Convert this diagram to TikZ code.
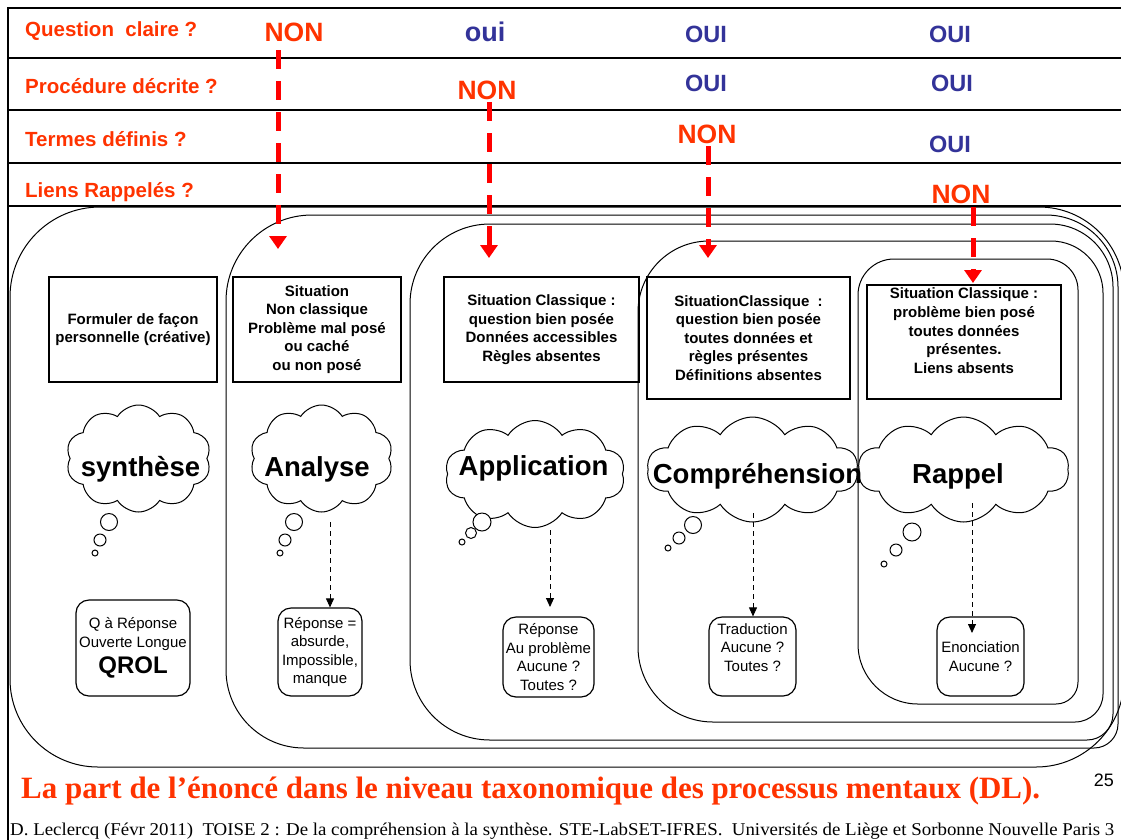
\documentclass[tikz,border=0pt]{standalone}
\usepackage{fontspec}
\usepackage{graphicx}
\setmainfont{Liberation Serif}
\newfontfamily\arial{Liberation Sans}
\newfontfamily\tnr{Liberation Serif}
\usetikzlibrary{shapes.symbols,arrows.meta}

\definecolor{qred}{HTML}{FF3300}
\definecolor{ouiblue}{HTML}{333399}
\definecolor{arrowred}{HTML}{FF0000}

% rounded frame with individual corner radii:
% #1 left, #2 top, #3 right, #4 bottom, #5 tl, #6 tr, #7 br, #8 bl
\newcommand\tierbox[8]{%
  \draw[tier] (#1+#5,#2) -- (#3-#6,#2)
    arc[start angle=90,end angle=0,radius=#6] -- (#3,#4+#7)
    arc[start angle=0,end angle=-90,radius=#7] -- (#1+#8,#4)
    arc[start angle=270,end angle=180,radius=#8] -- (#1,#2-#5)
    arc[start angle=180,end angle=90,radius=#5] -- cycle;}

\begin{document}
\begin{tikzpicture}[x=1pt,y=1pt,
  rowrule/.style={line width=2pt},
  tier/.style={line width=1pt},
  question/.style={anchor=base west,inner sep=0,text=qred,
    font=\arial\bfseries\fontsize{20.5}{24}\selectfont},
  nonlab/.style={anchor=base,inner sep=0,text=qred,
    font=\arial\bfseries\fontsize{26.5}{30}\selectfont},
  ouilab/.style={anchor=base,inner sep=0,text=ouiblue,
    font=\arial\bfseries\fontsize{23.5}{28}\selectfont},
  sitbox/.style={draw,line width=1.2pt,align=center,inner sep=0,
    font=\arial\bfseries\fontsize{15}{18.6}\selectfont},
  ansbox/.style={draw,rounded corners=13pt,line width=1.2pt,align=center,inner sep=0,
    font=\arial\fontsize{15}{18.6}\selectfont},
  thought/.style={cloud,draw,fill=white,line width=1pt,cloud puffs=10,
    cloud puff arc=115,inner sep=0},
  cloudtext/.style={anchor=base,inner sep=0,font=\arial\bfseries\fontsize{27.5}{30}\selectfont},
  bubble/.style={draw,fill=white,line width=1pt},
  askarrow/.style={draw=arrowred,line width=5pt,dash pattern=on 19pt off 12pt,
    -{Triangle[width=17pt,length=13pt]}},
  answ/.style={line width=0.9pt,dash pattern=on 5pt off 4pt,
    -{Triangle[width=8pt,length=9pt]}}]

\useasboundingbox (0,0) rectangle (1121,-839);
\begin{scope}
\clip (0,0) rectangle (1121,-839);
\fill[white] (0,0) rectangle (1121,-839);

% question table
\draw[rowrule] (8,-8) -- (1130,-8);
\draw[rowrule] (8,-58) -- (1130,-58);
\draw[rowrule] (8,-110) -- (1130,-110);
\draw[rowrule] (8,-163) -- (1130,-163);
\draw[rowrule] (8,-206) -- (1130,-206);
\draw[rowrule] (8,-7) -- (8,-845);

% nested levels
\tierbox{10}{-207}{1124}{-767}{90}{85}{88}{88}
\tierbox{226}{-215}{1118}{-748}{86}{72}{24}{78}
\tierbox{410}{-224}{1113}{-740}{80}{63}{26}{80}
\tierbox{638}{-241}{1103}{-722}{71}{52}{28}{75}
\tierbox{858}{-259}{1078}{-704}{36}{31}{22}{60}

% situation boxes
\node[sitbox,minimum width=168pt,minimum height=105pt] (s1) at (133,-329.5)
  {Formuler de façon\\personnelle (créative)};
\node[sitbox,minimum width=168pt,minimum height=105pt] (s2) at (317,-329.5)
  {Situation\\Non classique\\Problème mal posé\\ou caché\\ou non posé};
\node[sitbox,minimum width=195pt,minimum height=105pt] (s3) at (541.5,-329.5)
  {Situation Classique :\\question bien posée\\Données accessibles\\Règles absentes};
\node[sitbox,minimum width=203pt,minimum height=122pt] (s4) at (748.5,-338)
  {SituationClassique\ \ :\\question bien posée\\toutes données et\\règles présentes\\Définitions absentes};
\node[sitbox,minimum width=194pt,minimum height=114pt] (s5) at (964,-342)
  {Situation Classique :\\problème bien posé\\toutes données\\présentes.\\Liens absents\\[4pt]};

% thought clouds
\node[thought,minimum width=145pt,minimum height=107pt] (c1) at (138.5,-458.5) {};
\node[thought,minimum width=143pt,minimum height=107pt] (c2) at (321.5,-458.5) {};
\node[thought,minimum width=180pt,minimum height=107pt] (c3) at (535,-474) {};
\node[thought,minimum width=211pt,minimum height=105pt] (c4) at (752.5,-469.5) {};
\node[thought,minimum width=211pt,minimum height=105pt] (c5) at (963.5,-469.5) {};

% bubbles under the clouds
\draw[bubble] (109,-522) circle[radius=8.5];
\draw[bubble] (100,-540) circle[radius=6];
\draw[bubble] (95,-553) circle[radius=3];
\draw[bubble] (294,-522) circle[radius=8.5];
\draw[bubble] (285,-540) circle[radius=6];
\draw[bubble] (280,-553) circle[radius=3];
\draw[bubble] (482,-522) circle[radius=9];
\draw[bubble] (471,-533) circle[radius=5.5];
\draw[bubble] (462,-542) circle[radius=3];
\draw[bubble] (693,-525) circle[radius=8.5];
\draw[bubble] (679,-538) circle[radius=6];
\draw[bubble] (668,-548) circle[radius=3];
\draw[bubble] (912,-532) circle[radius=9];
\draw[bubble] (896,-550) circle[radius=6];
\draw[bubble] (884,-564) circle[radius=3];

\node[cloudtext] (t1) at (140.5,-476) {synthèse};
\node[cloudtext] (t2) at (317,-476) {Analyse};
\node[cloudtext] (t3) at (533.5,-475) {Application};
\node[cloudtext] (t4) at (757.5,-483) {Compréhension};
\node[cloudtext] (t5) at (958,-483) {Rappel};

% answer boxes
\node[ansbox,minimum width=114pt,minimum height=96pt] (r1) at (133,-648)
  {Q à Réponse\\Ouverte Longue\\[5pt]{\bfseries\fontsize{24}{24}\selectfont QROL}};
\node[ansbox,minimum width=84pt,minimum height=88pt] (r2) at (320,-652)
  {Réponse =\\absurde,\\Impossible,\\manque};
\node[ansbox,minimum width=91pt,minimum height=80pt] (r3) at (548.5,-657)
  {Réponse\\Au problème\\Aucune ?\\Toutes ?};
\node[ansbox,minimum width=87pt,minimum height=79pt] (r4) at (752.5,-656.5)
  {Traduction\\Aucune ?\\Toutes ?\\\mbox{}};
\node[ansbox,minimum width=87pt,minimum height=79pt] (r5) at (980.5,-656.5)
  {Enonciation\\Aucune ?};

% from each level to its answer
\coordinate (a2) at (330,-522);
\coordinate (a3) at (550,-530);
\coordinate (a3e) at (550,-607);
\coordinate (a4) at (753,-513);
\coordinate (a5) at (972,-503);
\coordinate (a5e) at (972,-633);
\draw[answ] (a2) -- (a2 |- r2.north);
\draw[answ] (a3) -- (a3e);
\draw[answ] (a4) -- (a4 |- r4.north);
\draw[answ] (a5) -- (a5e);

% table texts
\node[question] (q1) at (25,-36) {Question\ \ claire ?};
\node[question] (q2) at (25,-93) {Procédure décrite ?};
\node[question] (q3) at (25,-146) {Termes définis ?};
\node[question] (q4) at (25,-197) {Liens Rappelés ?};

\node[nonlab] (n11) at (294,-41) {NON};
\node[ouilab,font=\arial\bfseries\fontsize{27}{30}\selectfont] (o12) at (485,-41) {oui};
\node[ouilab] (o13) at (706,-42) {OUI};
\node[ouilab] (o14) at (950,-42) {OUI};
\node[nonlab] (n22) at (487,-99) {NON};
\node[ouilab] (o23) at (706,-91) {OUI};
\node[ouilab] (o24) at (952,-91) {OUI};
\node[nonlab] (n33) at (707,-143) {NON};
\node[ouilab] (o34) at (950,-152) {OUI};
\node[nonlab] (n44) at (961,-203) {NON};

% red arrows from each first NON
\coordinate (d1) at (278,-50);
\coordinate (d1e) at (278,-249);
\coordinate (d2) at (489,-102);
\coordinate (d2e) at (489,-258);
\coordinate (d3) at (708,-146);
\coordinate (d3e) at (708,-258);
\coordinate (d4) at (973,-207);
\coordinate (d4e) at (973,-283);
\draw[askarrow] (d1) -- (d1e);
\draw[askarrow] (d2) -- (d2e);
\draw[askarrow] (d3) -- (d3e);
\draw[askarrow] (d4) -- (d4e);

% title and footer
\node[anchor=base west,inner sep=0,text=qred] (title) at (21,-798)
  {\resizebox{1019pt}{\height}{\tnr\bfseries\fontsize{31}{33}\selectfont La part de l’énoncé dans le niveau taxonomique des processus mentaux (DL).}};
\node[anchor=base east,inner sep=0,font=\arial\fontsize{18}{20}\selectfont] (page) at (1114,-786) {25};
\node[anchor=base west,inner sep=0] (foot) at (10,-835)
  {\resizebox{1104pt}{\height}{\tnr\fontsize{18}{20}\selectfont D. Leclercq (Févr 2011)\ \ TOISE 2 : De la compréhension à la synthèse. STE-LabSET-IFRES.\ \ Universités de Liège et Sorbonne Nouvelle Paris 3}};
\end{scope}
\end{tikzpicture}
\end{document}
